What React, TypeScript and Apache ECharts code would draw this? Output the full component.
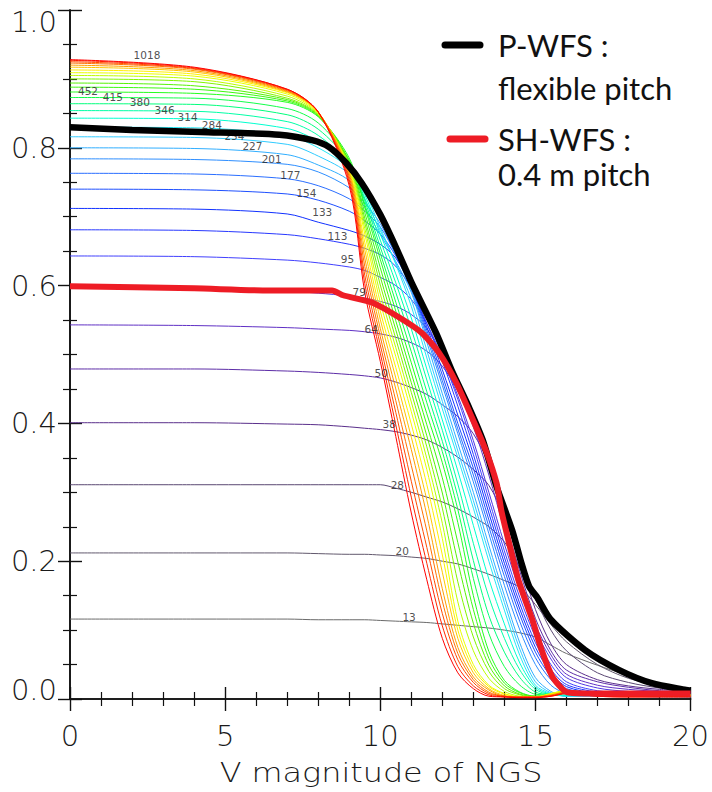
import React, { useEffect, useRef } from 'react';
import * as echarts from 'echarts';

// V magnitude sample points shared by every pitch curve
const MAG = [0, 4, 7, 8, 9, 9.5, 10, 10.5, 11, 11.5, 12, 12.5, 13, 13.5, 14, 14.5, 15, 15.5, 16, 17, 18, 19, 20];

// Pitch curves, one per number of sub-apertures
const N13 = [0.116, 0.116, 0.116, 0.115, 0.115, 0.115, 0.114, 0.113, 0.112, 0.111, 0.109, 0.107, 0.105, 0.103, 0.100, 0.096, 0.090, 0.078, 0.066, 0.049, 0.034, 0.021, 0.013];
const N20 = [0.212, 0.212, 0.212, 0.211, 0.210, 0.210, 0.209, 0.208, 0.206, 0.204, 0.200, 0.196, 0.189, 0.181, 0.172, 0.162, 0.137, 0.108, 0.083, 0.050, 0.030, 0.020, 0.014];
const N28 = [0.311, 0.311, 0.311, 0.311, 0.311, 0.311, 0.311, 0.306, 0.300, 0.293, 0.286, 0.276, 0.264, 0.250, 0.228, 0.190, 0.145, 0.100, 0.070, 0.038, 0.024, 0.016, 0.012];
const N38 = [0.401, 0.401, 0.399, 0.398, 0.395, 0.393, 0.391, 0.388, 0.383, 0.376, 0.365, 0.351, 0.333, 0.310, 0.265, 0.200, 0.130, 0.080, 0.050, 0.028, 0.019, 0.014, 0.011];
const N50 = [0.479, 0.479, 0.476, 0.474, 0.471, 0.469, 0.466, 0.460, 0.452, 0.442, 0.427, 0.410, 0.385, 0.340, 0.262, 0.185, 0.117, 0.070, 0.042, 0.025, 0.017, 0.012, 0.010];
const N64 = [0.543, 0.542, 0.539, 0.537, 0.535, 0.533, 0.530, 0.525, 0.517, 0.505, 0.483, 0.447, 0.395, 0.325, 0.245, 0.170, 0.108, 0.064, 0.036, 0.020, 0.014, 0.011, 0.009];
const N79 = [0.597, 0.596, 0.592, 0.589, 0.585, 0.582, 0.577, 0.570, 0.558, 0.538, 0.495, 0.440, 0.375, 0.300, 0.225, 0.157, 0.100, 0.058, 0.031, 0.016, 0.011, 0.009, 0.008];
const N95 = [0.643, 0.642, 0.637, 0.633, 0.627, 0.622, 0.612, 0.600, 0.580, 0.545, 0.495, 0.435, 0.366, 0.290, 0.215, 0.147, 0.090, 0.050, 0.025, 0.012, 0.009, 0.007, 0.006];
const N113 = [0.681, 0.680, 0.674, 0.668, 0.660, 0.654, 0.645, 0.628, 0.596, 0.545, 0.490, 0.425, 0.355, 0.280, 0.206, 0.138, 0.082, 0.043, 0.021, 0.010, 0.007, 0.006, 0.005];
const N133 = [0.712, 0.711, 0.704, 0.692, 0.680, 0.672, 0.660, 0.640, 0.598, 0.540, 0.478, 0.412, 0.345, 0.270, 0.197, 0.130, 0.075, 0.038, 0.018, 0.008, 0.006, 0.005, 0.005];
const N154 = [0.740, 0.739, 0.733, 0.724, 0.708, 0.694, 0.675, 0.643, 0.598, 0.535, 0.470, 0.400, 0.335, 0.260, 0.188, 0.122, 0.068, 0.033, 0.015, 0.007, 0.005, 0.005, 0.004];
const N177 = [0.763, 0.762, 0.755, 0.745, 0.726, 0.708, 0.685, 0.645, 0.596, 0.530, 0.462, 0.392, 0.325, 0.250, 0.178, 0.112, 0.060, 0.028, 0.012, 0.006, 0.005, 0.004, 0.004];
const N201 = [0.784, 0.783, 0.776, 0.765, 0.742, 0.720, 0.690, 0.645, 0.593, 0.525, 0.455, 0.385, 0.315, 0.240, 0.165, 0.100, 0.050, 0.020, 0.008, 0.005, 0.004, 0.004, 0.003];
const N227 = [0.800, 0.799, 0.790, 0.775, 0.752, 0.713, 0.674, 0.635, 0.590, 0.518, 0.443, 0.371, 0.300, 0.223, 0.150, 0.081, 0.031, 0.011, 0.004, 0.004, 0.004, 0.003, 0.003];
const N254 = [0.816, 0.815, 0.805, 0.788, 0.762, 0.725, 0.680, 0.633, 0.580, 0.506, 0.432, 0.360, 0.288, 0.212, 0.140, 0.072, 0.025, 0.009, 0.004, 0.005, 0.004, 0.004, 0.003];
const N284 = [0.830, 0.829, 0.818, 0.800, 0.770, 0.736, 0.684, 0.631, 0.570, 0.495, 0.421, 0.350, 0.277, 0.200, 0.129, 0.063, 0.020, 0.008, 0.004, 0.006, 0.005, 0.004, 0.004];
const N314 = [0.843, 0.842, 0.828, 0.809, 0.773, 0.732, 0.675, 0.617, 0.553, 0.479, 0.405, 0.331, 0.252, 0.174, 0.109, 0.052, 0.017, 0.007, 0.005, 0.006, 0.005, 0.005, 0.005];
const N346 = [0.854, 0.853, 0.838, 0.818, 0.776, 0.727, 0.666, 0.604, 0.537, 0.463, 0.390, 0.312, 0.226, 0.148, 0.088, 0.042, 0.014, 0.007, 0.007, 0.007, 0.005, 0.005, 0.005];
const N380 = [0.864, 0.863, 0.848, 0.827, 0.779, 0.723, 0.656, 0.590, 0.520, 0.446, 0.374, 0.294, 0.201, 0.121, 0.068, 0.031, 0.010, 0.007, 0.009, 0.007, 0.005, 0.005, 0.005];
const N415 = [0.873, 0.872, 0.857, 0.836, 0.782, 0.718, 0.647, 0.576, 0.504, 0.430, 0.359, 0.275, 0.175, 0.095, 0.047, 0.020, 0.007, 0.006, 0.010, 0.008, 0.005, 0.006, 0.006];
const N452 = [0.881, 0.879, 0.866, 0.845, 0.785, 0.714, 0.638, 0.563, 0.488, 0.414, 0.343, 0.256, 0.150, 0.069, 0.027, 0.010, 0.004, 0.006, 0.012, 0.008, 0.005, 0.006, 0.006];
const N491 = [0.888, 0.885, 0.868, 0.846, 0.781, 0.706, 0.626, 0.549, 0.473, 0.398, 0.321, 0.227, 0.130, 0.059, 0.023, 0.009, 0.004, 0.006, 0.012, 0.008, 0.005, 0.006, 0.006];
const N531 = [0.894, 0.890, 0.870, 0.847, 0.779, 0.698, 0.613, 0.536, 0.459, 0.382, 0.299, 0.199, 0.110, 0.049, 0.019, 0.007, 0.004, 0.007, 0.012, 0.007, 0.005, 0.006, 0.006];
const N573 = [0.900, 0.896, 0.872, 0.848, 0.776, 0.691, 0.601, 0.523, 0.445, 0.366, 0.277, 0.170, 0.090, 0.040, 0.015, 0.006, 0.003, 0.007, 0.012, 0.007, 0.005, 0.006, 0.006];
const N616 = [0.905, 0.900, 0.875, 0.849, 0.773, 0.683, 0.588, 0.510, 0.431, 0.349, 0.255, 0.141, 0.070, 0.030, 0.011, 0.004, 0.003, 0.008, 0.012, 0.006, 0.005, 0.006, 0.006];
const N661 = [0.909, 0.904, 0.878, 0.850, 0.770, 0.675, 0.576, 0.497, 0.417, 0.333, 0.233, 0.113, 0.050, 0.020, 0.008, 0.003, 0.003, 0.008, 0.012, 0.006, 0.005, 0.006, 0.006];
const N707 = [0.913, 0.907, 0.880, 0.851, 0.767, 0.663, 0.563, 0.481, 0.399, 0.311, 0.209, 0.100, 0.044, 0.018, 0.007, 0.003, 0.003, 0.007, 0.011, 0.006, 0.005, 0.005, 0.005];
const N755 = [0.917, 0.910, 0.881, 0.852, 0.765, 0.652, 0.551, 0.466, 0.380, 0.289, 0.184, 0.088, 0.038, 0.015, 0.005, 0.003, 0.003, 0.006, 0.010, 0.005, 0.004, 0.004, 0.004];
const N804 = [0.920, 0.912, 0.882, 0.852, 0.762, 0.640, 0.538, 0.450, 0.362, 0.267, 0.160, 0.075, 0.032, 0.013, 0.004, 0.003, 0.003, 0.006, 0.010, 0.005, 0.004, 0.004, 0.004];
const N855 = [0.923, 0.914, 0.883, 0.852, 0.758, 0.628, 0.526, 0.433, 0.339, 0.244, 0.142, 0.066, 0.028, 0.010, 0.004, 0.003, 0.003, 0.005, 0.010, 0.005, 0.004, 0.004, 0.004];
const N908 = [0.925, 0.915, 0.884, 0.852, 0.754, 0.615, 0.514, 0.416, 0.316, 0.220, 0.124, 0.057, 0.024, 0.008, 0.004, 0.003, 0.003, 0.005, 0.009, 0.005, 0.004, 0.004, 0.004];
const N962 = [0.927, 0.916, 0.885, 0.852, 0.750, 0.603, 0.502, 0.398, 0.293, 0.197, 0.106, 0.047, 0.019, 0.006, 0.003, 0.002, 0.002, 0.004, 0.008, 0.004, 0.003, 0.003, 0.003];
const N1018 = [0.928, 0.917, 0.885, 0.852, 0.745, 0.590, 0.490, 0.381, 0.270, 0.173, 0.088, 0.038, 0.015, 0.004, 0.003, 0.002, 0.002, 0.004, 0.008, 0.004, 0.003, 0.003, 0.003];

const PITCH_CURVES = [N13, N20, N28, N38, N50, N64, N79, N95, N113, N133, N154, N177, N201, N227, N254, N284,
  N314, N346, N380, N415, N452, N491, N531, N573, N616, N661, N707, N755, N804, N855, N908, N962, N1018];

// Curve labels: text and its anchor (magnitude, fraction)
const LABEL_TEXT = ['1018', '452', '415', '380', '346', '314', '284', '254', '227', '201', '177', '154', '133', '113', '95', '79', '64', '50', '38', '28', '20', '13'];
const LABEL_MAG = [2.48, 0.58, 1.38, 2.25, 3.05, 3.79, 4.57, 5.3, 5.88, 6.5, 7.1, 7.62, 8.13, 8.62, 8.94, 9.32, 9.71, 10.03, 10.29, 10.55, 10.71, 10.93];
const LABEL_VAL = [0.935, 0.882, 0.874, 0.866, 0.855, 0.845, 0.833, 0.817, 0.803, 0.784, 0.760, 0.734, 0.707, 0.672, 0.639, 0.591, 0.537, 0.473, 0.399, 0.311, 0.215, 0.119];

// P-WFS with flexible pitch
const PWFS_MAG = [0, 2, 4.2, 6.75, 7.8, 8.35, 8.9, 9.4, 10, 10.5, 11, 11.8, 12.3, 12.85, 13.3, 13.75, 14.25, 14.55, 14.8, 15.05, 15.5, 16.6, 17.7, 18.75, 19.85, 20];
const PWFS_VAL = [0.830, 0.826, 0.823, 0.819, 0.811, 0.801, 0.778, 0.749, 0.703, 0.656, 0.605, 0.531, 0.477, 0.424, 0.376, 0.308, 0.245, 0.197, 0.163, 0.148, 0.115, 0.071, 0.042, 0.023, 0.013, 0.012];

// SH-WFS with 0.4 m pitch
const SHWFS_MAG = [0, 4, 6.4, 8.45, 8.8, 9.75, 10.6, 11.35, 11.9, 12.45, 12.95, 13.4, 13.75, 13.9, 14.05, 14.45, 14.9, 15.2, 15.55, 16, 16.6, 20];
const SHWFS_VAL = [0.599, 0.596, 0.593, 0.593, 0.586, 0.575, 0.554, 0.531, 0.502, 0.459, 0.409, 0.361, 0.313, 0.274, 0.245, 0.173, 0.115, 0.071, 0.032, 0.010, 0.008, 0.008];

const X_TICKS = { min: 0, max: 20, interval: 5 };
const Y_TICKS = { min: 0, max: 1, interval: 0.2 };

// rainbow colour ramp, low pitch count (dark) to high (red)
const RAMP: [number, string][] = [
  [0, '#6a6a6a'], [0.06, '#5a4a70'], [0.1, '#5a2a90'], [0.16, '#6030c8'], [0.22, '#4040ff'],
  [0.28, '#1030ff'], [0.34, '#2a6aff'], [0.4, '#30a8ff'], [0.46, '#30e0ff'], [0.5, '#00ffd0'],
  [0.56, '#00ff80'], [0.62, '#20ff20'], [0.7, '#60f000'], [0.76, '#d0ff00'], [0.8, '#ffff00'],
  [0.86, '#ffb000'], [0.92, '#ff6000'], [1, '#ff0000'],
];

function hex(c: string) {
  return [1, 3, 5].map((k) => parseInt(c.slice(k, k + 2), 16));
}
function rampColor(t: number) {
  for (let k = 1; k < RAMP.length; k++) {
    if (t <= RAMP[k][0]) {
      const [t0, c0] = RAMP[k - 1];
      const [t1, c1] = RAMP[k];
      const f = (t - t0) / (t1 - t0);
      const a = hex(c0), b = hex(c1);
      const m = a.map((v, j) => Math.round(v + (b[j] - v) * f));
      return `rgb(${m[0]},${m[1]},${m[2]})`;
    }
  }
  return RAMP[RAMP.length - 1][1];
}

const TICK_FONT = '"DejaVu Sans ExtraLight", "DejaVu Sans"';
const LEGEND_FONT = 'Lato, "Open Sans", sans-serif';

export default function App() {
  const ref = useRef<HTMLDivElement>(null);

  useEffect(() => {
    const chart = echarts.init(ref.current!, null, { renderer: 'svg' });

    const axisLine = { show: true, lineStyle: { color: '#111', width: 1.6 } };
    const tick = { show: true, inside: true, length: 12, lineStyle: { color: '#111', width: 1.4 } };
    const minor = { show: true, length: 7, lineStyle: { color: '#111', width: 1.2 } };
    const labelStyle = { fontFamily: TICK_FONT, fontWeight: 200, fontSize: 29, color: '#1a1a1a' };

    const curveSeries = PITCH_CURVES.map((vals, i) => ({
      type: 'line',
      data: MAG.map((m, k) => [m, vals[k]]),
      showSymbol: false,
      smooth: 0.3,
      lineStyle: { width: 1, color: rampColor(i / (PITCH_CURVES.length - 1)) },
      z: 2,
      silent: true,
    }));

    const option = {
      animation: false,
      grid: { left: 70, right: 20, top: 10, bottom: 93 },
      xAxis: [
        {
          type: 'value', ...X_TICKS, position: 'bottom',
          axisLine, axisTick: tick, minorTick: { ...minor, splitNumber: 5 },
          splitLine: { show: false }, minorSplitLine: { show: false },
          axisLabel: { ...labelStyle, margin: 22, formatter: (v: number) => String(Math.round(v)) },
        },
        {
          type: 'value', ...X_TICKS, position: 'top',
          axisLine, axisTick: tick, minorTick: { ...minor, splitNumber: 5 },
          splitLine: { show: false }, axisLabel: { show: false },
        },
      ],
      yAxis: [
        {
          type: 'value', ...Y_TICKS, position: 'left',
          axisLine, axisTick: tick, minorTick: { ...minor, splitNumber: 4 },
          splitLine: { show: false },
          axisLabel: {
            ...labelStyle, margin: 13,
            formatter: (v: number) => (v > 0.99 ? '{hi|1.0}' : v < 0.01 ? '{lo|0.0}' : v.toFixed(1)),
            rich: {
              hi: { ...labelStyle, padding: [24, 0, 0, 0] },
              lo: { ...labelStyle, padding: [0, 0, 18, 0] },
            },
          },
        },
        {
          type: 'value', ...Y_TICKS, position: 'right',
          axisLine, axisTick: tick, minorTick: { ...minor, splitNumber: 4 },
          splitLine: { show: false }, axisLabel: { show: false },
        },
      ],
      series: [
        ...curveSeries,
        {
          type: 'scatter',
          data: LABEL_TEXT.map((t, k) => [LABEL_MAG[k], LABEL_VAL[k], t]),
          symbolSize: 0,
          silent: true,
          z: 3,
          label: {
            show: true, position: 'inside',
            formatter: (p: any) => p.data[2],
            fontFamily: 'DejaVu Sans', fontSize: 10.5, color: '#222',
          },
        },
        {
          type: 'line',
          data: PWFS_MAG.map((m, k) => [m, PWFS_VAL[k]]),
          showSymbol: false, smooth: 0.25,
          lineStyle: { width: 6.5, color: '#000' },
          z: 5, silent: true,
        },
        {
          type: 'line',
          data: SHWFS_MAG.map((m, k) => [m, SHWFS_VAL[k]]),
          showSymbol: false, smooth: 0.2,
          lineStyle: { width: 6, color: '#ee1c25' },
          z: 6, silent: true,
        },
      ],
      graphic: [
        { type: 'line', shape: { x1: 445, y1: 45, x2: 480, y2: 45 }, style: { stroke: '#000', lineWidth: 7, lineCap: 'round' }, z: 10 },
        { type: 'text', x: 498, y: 45, style: { text: 'P-WFS :', font: `31px ${LEGEND_FONT}`, fill: '#111', verticalAlign: 'middle' }, z: 10 },
        { type: 'text', x: 498, y: 88, style: { text: 'flexible pitch', font: `31px ${LEGEND_FONT}`, fill: '#111', verticalAlign: 'middle' }, z: 10 },
        { type: 'line', shape: { x1: 450, y1: 139, x2: 485, y2: 139 }, style: { stroke: '#ee1c25', lineWidth: 7, lineCap: 'round' }, z: 10 },
        { type: 'text', x: 498, y: 139, style: { text: 'SH-WFS :', font: `31px ${LEGEND_FONT}`, fill: '#111', verticalAlign: 'middle' }, z: 10 },
        { type: 'text', x: 498, y: 174, style: { text: '0.4 m pitch', font: `31px ${LEGEND_FONT}`, fill: '#111', verticalAlign: 'middle' }, z: 10 },
        {
          type: 'text', x: 381, y: 773, scaleX: 1.18,
          style: { text: 'V magnitude of NGS', font: `200 27px ${TICK_FONT}`, fill: '#1a1a1a', align: 'center', verticalAlign: 'middle' },
          z: 10,
        },
      ],
    };

    chart.setOption(option as any);
    return () => chart.dispose();
  }, []);

  return <div ref={ref} style={{ position: 'fixed', left: 0, top: 0, width: 712, height: 792, background: '#fff' }} />;
}
